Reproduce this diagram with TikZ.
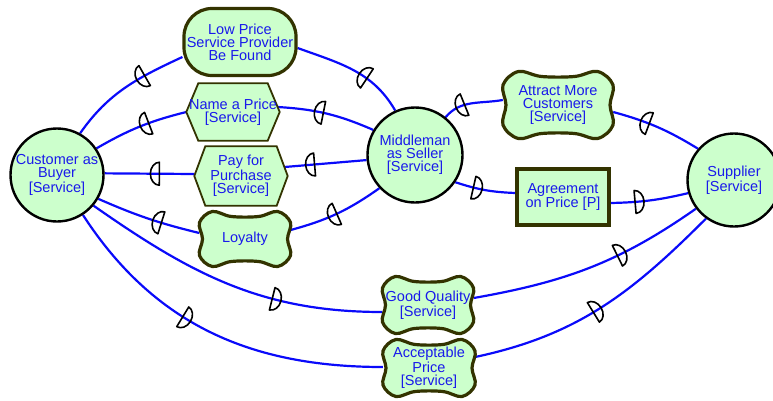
\documentclass[tikz,border=0pt]{standalone}
\usepackage{fontspec}
\setmainfont{Liberation Sans}
\usetikzlibrary{decorations.markings}
\pgfdeclarelayer{linklayer}
\pgfdeclarelayer{shapelayer}
\pgfsetlayers{linklayer,shapelayer,main}
\definecolor{nodefill}{RGB}{204,255,204}
\definecolor{sgborder}{RGB}{51,51,0}
\definecolor{linkblue}{RGB}{10,10,250}
\definecolor{textblue}{RGB}{25,25,235}

\tikzset{
  lbl/.style={font=\fontsize{14.5}{13}\selectfont, text=textblue, align=center, inner sep=0pt},
  actor/.style={lbl, circle, draw=black, line width=2.4pt, fill=nodefill},
  goalbox/.style={lbl, rectangle, rounded corners=28pt, draw=sgborder, line width=3.2pt, fill=nodefill},
  resbox/.style={lbl, rectangle, draw=sgborder, line width=3.2pt, fill=nodefill},
  sgline/.style={draw=sgborder, line width=3.2pt, fill=nodefill, line join=round},
  hexline/.style={draw=sgborder, line width=1.8pt, fill=nodefill, line join=miter},
  link/.style={draw=linkblue, line width=2.2pt},
  dmarkline/.style={draw=black, line width=1.6pt, line join=round},
  dmk/.style 2 args={postaction={decorate, decoration={markings,
      mark=at position #1 with {\draw[dmarkline, xscale=#2] (-4.5pt,-11.5pt)
        arc[start angle=-90, end angle=90, x radius=9pt, y radius=11.5pt] -- cycle;}}}},
}

% task: hexagon around a named node
\newcommand\taskhex[7]{%
  \node[lbl, minimum width=#4pt, minimum height=#5pt] (#1) at (#2,#3) {#7};
  \begin{pgfonlayer}{shapelayer}
    \draw[hexline] (#1.west) -- ([xshift=#6pt]#1.north west) -- ([xshift=-#6pt]#1.north east)
      -- (#1.east) -- ([xshift=-#6pt]#1.south east) -- ([xshift=#6pt]#1.south west) -- cycle;
  \end{pgfonlayer}
}

% softgoal: cloud-like box with concave sides around a named node
\newcommand\softgoal[6]{%
  \node[lbl, minimum width=#4pt, minimum height=#5pt] (#1) at (#2,#3) {#6};
  \pgfmathsetmacro\sgA{#4/2}%
  \pgfmathsetmacro\sgB{#5/2}%
  \begin{pgfonlayer}{shapelayer}
    \draw[sgline, shift={(#2,#3)}] plot[smooth cycle, tension=0.6] coordinates {
      (-0.72*\sgA,\sgB) (-0.3*\sgA,\sgB-5) (0.3*\sgA,\sgB-5) (0.72*\sgA,\sgB)
      (\sgA,0.6*\sgB) (\sgA-3,0) (\sgA,-0.6*\sgB)
      (0.72*\sgA,-\sgB) (0.3*\sgA,-\sgB+5) (-0.3*\sgA,-\sgB+5) (-0.72*\sgA,-\sgB)
      (-\sgA,-0.6*\sgB) (-\sgA+3,0) (-\sgA,0.6*\sgB)};
  \end{pgfonlayer}
}

\begin{document}
\begin{tikzpicture}[x=1pt,y=1pt]
\useasboundingbox (0,0) rectangle (773,400);

% actors
\node[actor, minimum size=93pt] (C) at (57,225) {Customer as\\Buyer\\{}[Service]};
\node[actor, minimum size=95pt] (M) at (415,245) {Middleman\\as Seller\\{}[Service]};
\node[actor, minimum size=93pt] (S) at (734,220) {Supplier\\{}[Service]};

% goal and resource
\node[goalbox, minimum width=112pt, minimum height=67pt] (LP) at (240,358) {Low Price\\Service Provider\\Be Found};
\node[resbox, minimum width=92pt, minimum height=56pt] (AG) at (563,203) {Agreement\\on Price [P]};

% tasks
\taskhex{NP}{233}{288}{93}{57}{12}{Name a Price\\{}[Service]}
\taskhex{PP}{241}{224}{93}{59}{11}{Pay for\\Purchase\\{}[Service]}

% softgoals
\softgoal{LO}{245}{161}{91}{55}{Loyalty}
\softgoal{AM}{558}{295}{110}{67}{Attract More\\Customers\\{}[Service]}
\softgoal{GQ}{428}{95}{91}{57}{Good Quality\\{}[Service]}
\softgoal{AP}{429}{32}{92}{57}{Acceptable\\Price\\{}[Service]}

% dependency links
\begin{pgfonlayer}{linklayer}
\draw[link, dmk={0.64}{-1}] (C.61) to[out=55,in=205] ([yshift=-15pt]LP.west);
\draw[link, dmk={0.6}{-1}] ([yshift=-6pt]LP.east) to[out=-20,in=120] (M.114);
\draw[link, dmk={0.55}{-1}] (C.34) to[bend left=8] (NP.west);
\draw[link, dmk={0.42}{-1}] ([shift={(-2pt,5pt)}]NP.east) to[bend left=10] (M.149);
\draw[link, dmk={0.56}{-1}] (C.2) -- ([yshift=2pt]PP.west);
\draw[link, dmk={0.31}{-1}] ([shift={(-3pt,9pt)}]PP.east) -- (M.186);
\draw[link, dmk={0.59}{-1}] (C.-30) to[bend right=5] ([yshift=6pt]LO.west);
\draw[link, dmk={0.45}{-1}] ([yshift=9pt]LO.east) to[bend right=10] (M.-137);
\draw[link, dmk={0.66}{1}] (C.-40) to[out=-35,in=180] ([yshift=-7pt]GQ.west);
\draw[link, dmk={0.64}{1}] ([yshift=7pt]GQ.east) to[out=10,in=215] (S.217);
\draw[link, dmk={0.42}{1}] (C.-57) to[out=-57,in=180] ([yshift=1pt]AP.west);
\draw[link, dmk={0.48}{1}] ([yshift=11pt]AP.east) to[out=12,in=225] (S.234);
\draw[link, dmk={0.3}{-1}] (M.51) to[out=50,in=190] ([yshift=5pt]AM.west);
\draw[link, dmk={0.36}{-1}] ([yshift=-7pt]AM.east) to[bend left=8] (S.139);
\draw[link, dmk={0.38}{1}] (M.-34) to[bend right=8] ([yshift=4pt]AG.west);
\draw[link, dmk={0.37}{1}] ([yshift=-6pt]AG.east) to[bend right=6] (S.196);
\end{pgfonlayer}
\end{tikzpicture}
\end{document}
